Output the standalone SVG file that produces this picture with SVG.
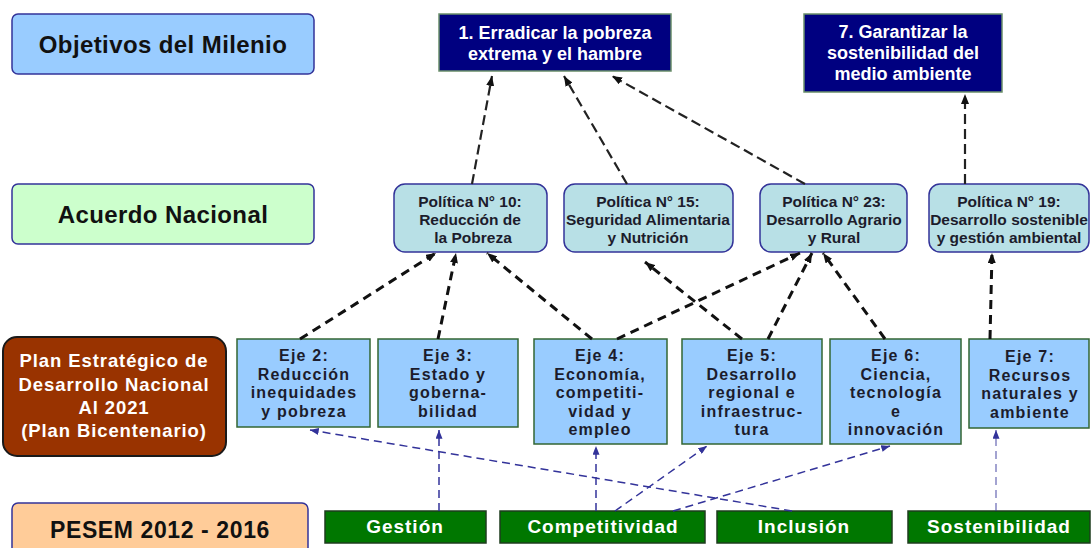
<svg xmlns="http://www.w3.org/2000/svg" width="1091" height="548" viewBox="0 0 1091 548">
<defs>
<style>
text{font-family:"Liberation Sans",Arial,sans-serif;font-weight:bold;text-anchor:middle}
.lbl{fill:#111;font-size:24px;letter-spacing:0.4px}
.obj rect{fill:#000080;stroke:#6a8f6a;stroke-width:1.5}
.obj text{fill:#fff;font-size:18px}
.pol rect{fill:#b8e0e6;stroke:#333399;stroke-width:1.5}
.pol text{fill:#1c1c2c;font-size:15.5px}
.eje rect{fill:#99ccff;stroke:#336633;stroke-width:1.5}
.eje text{fill:#1c1c2c;font-size:16px;letter-spacing:1.2px}
.grn rect{fill:#007700;stroke:#1e3d1e;stroke-width:1.5}
.grn text{fill:#fff;font-size:19px;letter-spacing:1px}
.top{stroke:#222;stroke-width:2.2;stroke-dasharray:10 5;fill:none}
.mid{stroke:#111;stroke-width:3;stroke-dasharray:9 6;fill:none}
.bot{stroke:#33339a;stroke-width:1.5;stroke-dasharray:8 5;fill:none}
</style>
<marker id="ab" viewBox="0 0 10 8" refX="10" refY="4" markerWidth="10" markerHeight="8" markerUnits="userSpaceOnUse" orient="auto"><path d="M0,0 L10,4 L0,8 z" fill="#111"/></marker>
<marker id="an" viewBox="0 0 10 8" refX="10" refY="4" markerWidth="9" markerHeight="7" markerUnits="userSpaceOnUse" orient="auto"><path d="M0,0 L10,4 L0,8 z" fill="#33339a"/></marker>
</defs>
<rect width="1091" height="548" fill="#fff"/>

<g id="lbl-objetivos"><rect x="12" y="14" width="302" height="60" rx="6" fill="#99ccff" stroke="#333399" stroke-width="1.5"/><text class="lbl" x="163" y="53">Objetivos del Milenio</text></g>
<g id="lbl-acuerdo"><rect x="12" y="184" width="302" height="60" rx="6" fill="#ccffcc" stroke="#333399" stroke-width="1.5"/><text class="lbl" x="163" y="223">Acuerdo Nacional</text></g>
<g id="lbl-plan"><rect x="3" y="337" width="223" height="119" rx="14" fill="#993300" stroke="#1a1a1a" stroke-width="2"/>
<text x="114" y="367" fill="#fff" font-size="18.5" letter-spacing="0.9">Plan Estratégico de</text>
<text x="114" y="391" fill="#fff" font-size="18.5" letter-spacing="0.9">Desarrollo Nacional</text>
<text x="114" y="414" fill="#fff" font-size="18.5" letter-spacing="0.9">Al 2021</text>
<text x="114" y="437" fill="#fff" font-size="18.5" letter-spacing="0.9">(Plan Bicentenario)</text></g>
<g id="lbl-pesem"><rect x="12" y="503" width="296" height="60" rx="6" fill="#ffcc99" stroke="#333399" stroke-width="1.5"/><text x="160" y="538" fill="#111" font-size="23" letter-spacing="0.6">PESEM 2012 - 2016</text></g>

<g id="obj1" class="obj"><rect x="439" y="14" width="232" height="57"/><text x="555" y="39">1. Erradicar la pobreza</text><text x="555" y="60">extrema y el hambre</text></g>
<g id="obj7" class="obj"><rect x="804" y="14" width="198" height="78"/><text x="903" y="38">7. Garantizar la</text><text x="903" y="59">sostenibilidad del</text><text x="903" y="80">medio ambiente</text></g>

<g id="pol10" class="pol"><rect x="394" y="184" width="153" height="68" rx="11"/><text x="470" y="207">Política N° 10:</text><text x="470" y="225">Reducción de</text><text x="473" y="243">la Pobreza</text></g>
<g id="pol15" class="pol"><rect x="564" y="184" width="169" height="68" rx="11"/><text x="648" y="207">Política N° 15:</text><text x="648" y="225">Seguridad Alimentaria</text><text x="648" y="243">y Nutrición</text></g>
<g id="pol23" class="pol"><rect x="760" y="184" width="147" height="68" rx="11"/><text x="834" y="207">Política N° 23:</text><text x="834" y="225">Desarrollo Agrario</text><text x="834" y="243">y Rural</text></g>
<g id="pol19" class="pol"><rect x="929" y="184" width="160" height="68" rx="11"/><text x="1009" y="207">Política N° 19:</text><text x="1009" y="225">Desarrollo sostenible</text><text x="1009" y="243">y gestión ambiental</text></g>

<g id="eje2" class="eje"><rect x="237" y="339" width="133" height="88"/><text x="304" y="361">Eje 2:</text><text x="304" y="380">Reducción</text><text x="304" y="398">inequidades</text><text x="304" y="417">y pobreza</text></g>
<g id="eje3" class="eje"><rect x="378" y="339" width="140" height="88"/><text x="448" y="361">Eje 3:</text><text x="448" y="380">Estado y</text><text x="448" y="398">goberna-</text><text x="448" y="417">bilidad</text></g>
<g id="eje4" class="eje"><rect x="534" y="339" width="133" height="105"/><text x="600" y="361">Eje 4:</text><text x="600" y="380">Economía,</text><text x="600" y="398">competiti-</text><text x="600" y="417">vidad y</text><text x="600" y="435">empleo</text></g>
<g id="eje5" class="eje"><rect x="682" y="339" width="140" height="105"/><text x="752" y="361">Eje 5:</text><text x="752" y="380">Desarrollo</text><text x="752" y="398">regional e</text><text x="752" y="417">infraestruc-</text><text x="752" y="435">tura</text></g>
<g id="eje6" class="eje"><rect x="830" y="339" width="131" height="105"/><text x="896" y="361">Eje 6:</text><text x="896" y="380">Ciencia,</text><text x="896" y="398">tecnología</text><text x="896" y="417">e</text><text x="896" y="435">innovación</text></g>
<g id="eje7" class="eje"><rect x="969" y="339" width="120" height="89"/><text x="1030" y="362">Eje 7:</text><text x="1030" y="381">Recursos</text><text x="1030" y="399">naturales y</text><text x="1030" y="418">ambiente</text></g>

<g id="gestion" class="grn"><rect x="325" y="511" width="161" height="32"/><text x="405" y="533">Gestión</text></g>
<g id="competitividad" class="grn"><rect x="500" y="511" width="205" height="32"/><text x="603" y="533">Competitividad</text></g>
<g id="inclusion" class="grn"><rect x="717" y="511" width="175" height="32"/><text x="804" y="533">Inclusión</text></g>
<g id="sostenibilidad" class="grn"><rect x="908" y="511" width="182" height="32"/><text x="999" y="533">Sostenibilidad</text></g>

<g id="connectors">
<line class="top" x1="472" y1="184" x2="492" y2="76" marker-end="url(#ab)"/>
<line class="top" x1="627" y1="184" x2="564" y2="76" marker-end="url(#ab)"/>
<line class="top" x1="805" y1="184" x2="612" y2="76" marker-end="url(#ab)"/>
<line class="top" x1="965" y1="184" x2="965" y2="94" marker-end="url(#ab)"/>

<line class="mid" x1="300" y1="339" x2="436" y2="253" marker-end="url(#ab)"/>
<line class="mid" x1="438" y1="339" x2="456" y2="253" marker-end="url(#ab)"/>
<line class="mid" x1="592" y1="339" x2="487" y2="253" marker-end="url(#ab)"/>
<line class="mid" x1="617" y1="339" x2="800" y2="253" marker-end="url(#ab)"/>
<line class="mid" x1="742" y1="339" x2="645" y2="262" marker-end="url(#ab)"/>
<line class="mid" x1="768" y1="339" x2="812" y2="253" marker-end="url(#ab)"/>
<line class="mid" x1="885" y1="339" x2="823" y2="253" marker-end="url(#ab)"/>
<line class="mid" x1="990" y1="339" x2="992" y2="253" marker-end="url(#ab)"/>

<line class="bot" x1="439" y1="511" x2="439" y2="430" marker-end="url(#an)"/>
<line class="bot" x1="596" y1="511" x2="596" y2="446" marker-end="url(#an)"/>
<line class="bot" x1="615" y1="511" x2="707" y2="446" marker-end="url(#an)"/>
<line class="bot" x1="673" y1="511" x2="890" y2="446" marker-end="url(#an)"/>
<line class="bot" x1="792" y1="511" x2="310" y2="430" marker-end="url(#an)"/>
<line class="bot" x1="996" y1="511" x2="996" y2="430" marker-end="url(#an)" stroke-opacity="0.6"/>
</g>
</svg>
